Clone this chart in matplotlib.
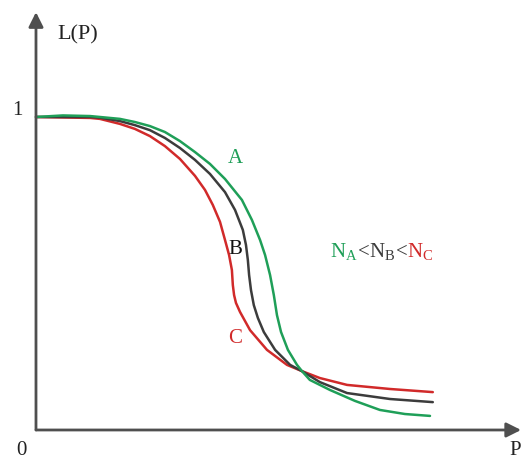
import matplotlib
matplotlib.use('Agg')
import matplotlib.pyplot as plt
import matplotlib.transforms as mtransforms

plt.rcParams['font.family'] = ['Liberation Serif', 'DejaVu Serif']
plt.rcParams['mathtext.fontset'] = 'custom'
plt.rcParams['mathtext.rm'] = 'Liberation Serif'

# curves (P, L(P))
p_a = [0.0, 0.086, 0.173, 0.268, 0.316, 0.364, 0.412, 0.460, 0.508, 0.556, 0.604,
       0.658, 0.690, 0.716, 0.732, 0.748, 0.760, 0.770, 0.783, 0.805, 0.834, 0.850,
       0.875, 0.939, 1.019, 1.099, 1.179, 1.259]
l_a = [1.0, 1.005, 1.003, 0.994, 0.984, 0.971, 0.952, 0.923, 0.888, 0.850, 0.802,
       0.735, 0.671, 0.607, 0.559, 0.495, 0.431, 0.367, 0.313, 0.256, 0.208, 0.188,
       0.160, 0.128, 0.093, 0.064, 0.051, 0.045]

p_b = [0.0, 0.173, 0.204, 0.268, 0.316, 0.364, 0.412, 0.460, 0.508, 0.556, 0.604,
       0.636, 0.661, 0.671, 0.677, 0.681, 0.687, 0.696, 0.709, 0.728, 0.764, 0.812,
       0.850, 0.907, 0.994, 1.131, 1.268]
l_b = [1.0, 1.0, 0.998, 0.987, 0.974, 0.958, 0.933, 0.901, 0.863, 0.818, 0.760,
       0.703, 0.639, 0.591, 0.543, 0.495, 0.447, 0.399, 0.358, 0.313, 0.256, 0.208,
       0.188, 0.153, 0.118, 0.099, 0.089]

p_c = [0.0, 0.173, 0.204, 0.268, 0.316, 0.364, 0.412, 0.460, 0.508, 0.540, 0.565,
       0.588, 0.604, 0.617, 0.626, 0.629, 0.633, 0.639, 0.652, 0.684, 0.738, 0.802,
       0.850, 0.907, 0.994, 1.131, 1.268]
l_c = [1.0, 0.997, 0.994, 0.978, 0.962, 0.939, 0.907, 0.866, 0.812, 0.767, 0.719,
       0.665, 0.607, 0.559, 0.511, 0.463, 0.431, 0.406, 0.377, 0.319, 0.256, 0.208,
       0.188, 0.166, 0.144, 0.131, 0.121]

green = '#1f9f58'
black = '#3c3c3c'
red = '#d12a2a'
axis_col = '#4f4f4f'

fig = plt.figure(figsize=(5.22, 4.59), dpi=100)
ax = fig.add_axes([0, 0, 1, 1])
ax.set_xlim(-0.115, 1.553)
ax.set_ylim(-0.0927, 1.3738)
ax.axis('off')

# axes with arrow heads
arrow = dict(arrowstyle='-|>', mutation_scale=22, lw=2.0, color=axis_col,
             shrinkA=0, shrinkB=0)
ax.annotate('', xy=(1.55, 0), xytext=(0, 0), arrowprops=arrow)
ax.annotate('', xy=(0, 1.335), xytext=(0, 0), arrowprops=arrow)

for p, l, c in [(p_c, l_c, red), (p_b, l_b, black), (p_a, l_a, green)]:
    ax.plot(p, l, color=c, lw=1.8, solid_capstyle='round', solid_joinstyle='round')

fs = 15
ax.text(0.134, 1.262, 'L(P)', fontsize=16, ha='center', va='center', color='#222222')
ax.text(-0.058, 1.022, '1', fontsize=fs, ha='center', va='center', color='#222222')
ax.text(-0.045, -0.064, '0', fontsize=fs, ha='center', va='center', color='#222222')
ax.text(1.530, -0.064, 'P', fontsize=fs, ha='center', va='center', color='#222222')
ax.text(0.636, 0.866, 'A', fontsize=fs, ha='center', va='center', color=green)
ax.text(0.636, 0.578, 'B', fontsize=fs, ha='center', va='center', color='#111111')
ax.text(0.636, 0.291, 'C', fontsize=fs, ha='center', va='center', color=red)

# N_A < N_B < N_C with coloured pieces
parts = [(r'N$_\mathrm{A}$', green), ('<', black), (r'N$_\mathrm{B}$', black),
         ('<', black), (r'N$_\mathrm{C}$', red)]
fig.canvas.draw()
renderer = fig.canvas.get_renderer()
tr = ax.transData
for s, c in parts:
    t = ax.text(0.939, 0.553, s, color=c, fontsize=fs, transform=tr, va='baseline')
    ex = t.get_window_extent(renderer)
    tr = mtransforms.offset_copy(t.get_transform(), fig=fig, x=ex.width, units='dots')

fig.savefig('out.png', dpi=100)
